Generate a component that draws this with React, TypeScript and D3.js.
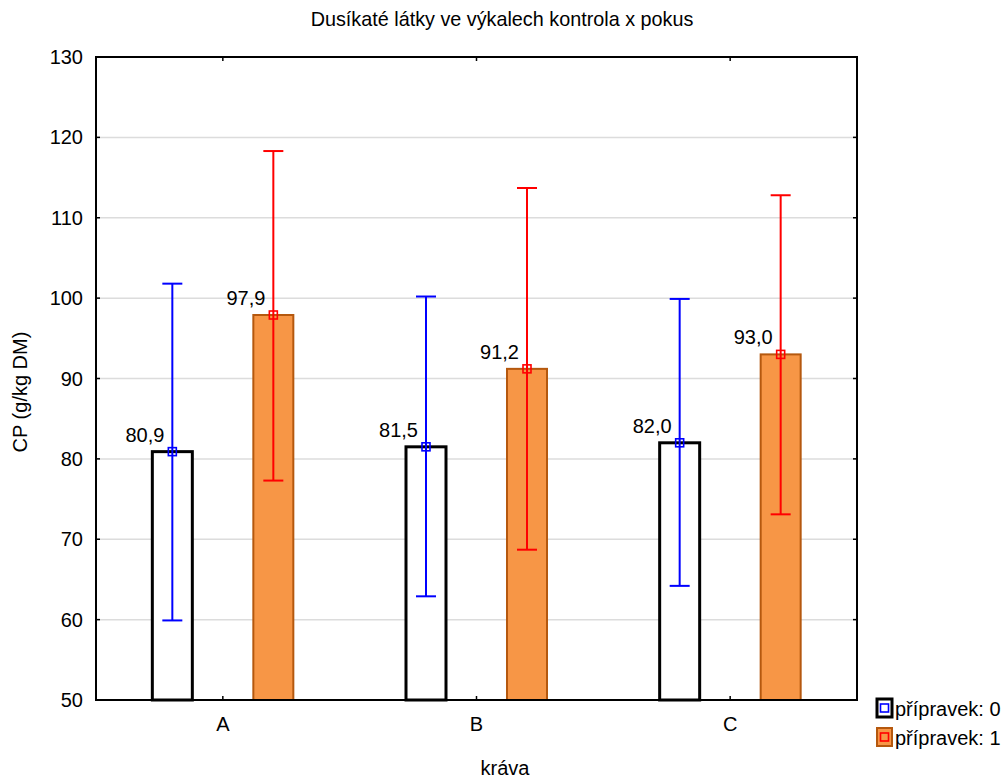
import React from "react";
import * as d3 from "d3";

const categories = ["A", "B", "C"];
const seriesNames = ["přípravek: 0", "přípravek: 1"];
const means0 = [80.9, 81.5, 82.0];
const means1 = [97.9, 91.2, 93.0];
const low0 = [59.9, 62.9, 64.2];
const high0 = [101.8, 100.2, 99.9];
const low1 = [77.3, 68.7, 73.1];
const high1 = [118.3, 113.7, 112.8];
const yTicks = [50, 60, 70, 80, 90, 100, 110, 120, 130];

const W = 1005;
const H = 778;
const L = 96, R = 857, T = 57, B = 700;
const FONT = "Liberation Sans, Arial, sans-serif";
const FS = 20;

export default function App() {
  const x = d3.scaleBand<string>().domain(categories).range([L, R]).padding(0);
  const y = d3.scaleLinear().domain([50, 130]).range([B, T]);
  const off = d3.scaleOrdinal<number, number>().domain([0, 1]).range([-50.5, 50.5]);
  const barW = 40;
  const fmt = (v: number) => d3.format(".1f")(v).replace(".", ",");

  const series = [
    { means: means0, low: low0, high: high0, fill: "#FFFFFF", stroke: "#000000", sw: 3, err: "#0000FF" },
    { means: means1, low: low1, high: high1, fill: "#F79646", stroke: "#B5580E", sw: 2, err: "#FF0000" },
  ];

  return (
    <svg width={W} height={H} style={{ display: "block", position: "absolute", left: 0, top: 0 }} fontFamily={FONT}>
      <rect x={0} y={0} width={W} height={H} fill="#fff" />
      <text x={502} y={26} textAnchor="middle" fontSize={19.8} fill="#000">
        Dusíkaté látky ve výkalech kontrola x pokus
      </text>
      {/* grid */}
      {yTicks.slice(1, -1).map((t) => (
        <line key={"g" + t} x1={L} x2={R} y1={y(t)} y2={y(t)} stroke="#DCDCDC" strokeWidth={1.5} />
      ))}
      {/* bars */}
      {series.map((s, si) =>
        categories.map((c, i) => {
          const cx = (x(c) as number) + x.bandwidth() / 2 + off(si);
          return (
            <rect key={"b" + si + c} x={cx - barW / 2} y={y(s.means[i])} width={barW} height={B - y(s.means[i])}
              fill={s.fill} stroke={s.stroke} strokeWidth={s.sw} />
          );
        })
      )}
      {/* error bars */}
      {series.map((s, si) =>
        categories.map((c, i) => {
          const cx = (x(c) as number) + x.bandwidth() / 2 + off(si);
          const yh = y(s.high[i]);
          const yl = y(s.low[i]);
          const ym = y(s.means[i]);
          return (
            <g key={"e" + si + c} stroke={s.err} strokeWidth={2} fill="none">
              <line x1={cx} x2={cx} y1={yh} y2={yl} />
              <line x1={cx - 10} x2={cx + 10} y1={yh} y2={yh} />
              <line x1={cx - 10} x2={cx + 10} y1={yl} y2={yl} />
              <rect x={cx - 4} y={ym - 4} width={8} height={8} strokeWidth={1.6} />
            </g>
          );
        })
      )}
      {/* value labels */}
      {series.map((s, si) =>
        categories.map((c, i) => {
          const cx = (x(c) as number) + x.bandwidth() / 2 + off(si);
          return (
            <text key={"l" + si + c} x={cx - 8} y={y(s.means[i]) - 10} textAnchor="end" fontSize={FS} fill="#000">
              {fmt(s.means[i])}
            </text>
          );
        })
      )}
      {/* frame */}
      <rect x={L} y={T} width={R - L} height={B - T} fill="none" stroke="#000" strokeWidth={2} />
      {/* y ticks */}
      {yTicks.map((t) => (
        <g key={"t" + t}>
          <line x1={L} x2={L + 4} y1={y(t)} y2={y(t)} stroke="#000" strokeWidth={1.5} />
          <line x1={R - 4} x2={R} y1={y(t)} y2={y(t)} stroke="#000" strokeWidth={1.5} />
          <text x={L - 13} y={y(t) + 7} textAnchor="end" fontSize={FS} fill="#000">{t}</text>
        </g>
      ))}
      {/* x ticks */}
      {categories.map((c) => {
        const cx = (x(c) as number) + x.bandwidth() / 2;
        return (
          <g key={"x" + c}>
            <line x1={cx} x2={cx} y1={B} y2={B - 4} stroke="#000" strokeWidth={1.5} />
            <line x1={cx} x2={cx} y1={T} y2={T + 4} stroke="#000" strokeWidth={1.5} />
            <text x={cx} y={B + 31} textAnchor="middle" fontSize={FS} fill="#000">{c}</text>
          </g>
        );
      })}
      <text x={505} y={775} textAnchor="middle" fontSize={FS} fill="#000">kráva</text>
      <text transform={`translate(27,392) rotate(-90)`} textAnchor="middle" fontSize={FS} fill="#000">CP (g/kg DM)</text>
      {/* legend */}
      {series.map((s, si) => {
        const ly = 699 + si * 29;
        return (
          <g key={"lg" + si}>
            <rect x={877} y={ly} width={15} height={18} fill={s.fill} stroke={s.stroke} strokeWidth={s.sw} />
            <rect x={880.5} y={ly + 5} width={8} height={8} fill="none" stroke={s.err} strokeWidth={1.6} />
            <text x={895} y={ly + 17} fontSize={FS} fill="#000">{seriesNames[si]}</text>
          </g>
        );
      })}
    </svg>
  );
}
